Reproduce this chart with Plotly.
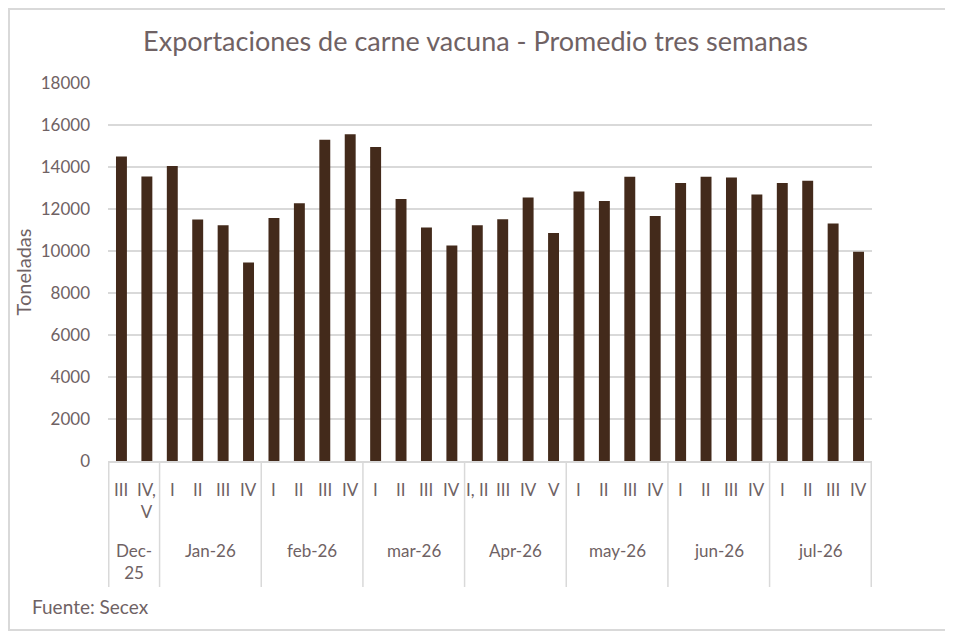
import plotly.graph_objects as go

# semanas y meses (eje de categorias en dos niveles)
meses = ["Dec-<br>25"] * 2 + ["Jan-26"] * 4 + ["feb-26"] * 4 + ["mar-26"] * 4 + \
        ["Apr-26"] * 4 + ["may-26"] * 4 + ["jun-26"] * 4 + ["jul-26"] * 4
semanas = ["III", "IV,<br>V",
           "I", "II", "III", "IV",
           "I", "II", "III", "IV",
           "I", "II", "III", "IV",
           "I, II", "III", "IV", "V",
           "I", "II", "III", "IV",
           "I", "II", "III", "IV",
           "I", "II", "III", "IV"]
toneladas = [14500, 13550,
             14050, 11500, 11230, 9450,
             11570, 12270, 15300, 15560,
             14950, 12480, 11120, 10260,
             11230, 11510, 12550, 10860,
             12830, 12380, 13540, 11670,
             13240, 13540, 13500, 12690,
             13240, 13340, 11310, 9960]

texto = "#6f6264"
gris = "#d9d9d9"
fuente = "Lato, Open Sans, sans-serif"

# la pagina deja 8 px de margen, el grafico se dibuja un poco mas chico
W, H = 945, 625
L, R, T, B = 100, 81, 75, 172
PW, PH = W - L - R, H - T - B


def py(p):
    # pixel vertical de la imagen -> coordenada paper
    return (H - B - (p - 8)) / PH


def px(q):
    return (q - 8 - L) / PW


ids = [m + "|" + s for m, s in zip(meses, semanas)]

fig = go.Figure(go.Bar(x=ids, y=toneladas,
                       marker=dict(color="#432a1b", line=dict(width=0))))

fig.update_layout(
    width=W, height=H,
    margin=dict(l=L, r=R, t=T, b=B),
    paper_bgcolor="white", plot_bgcolor="white",
    font=dict(family=fuente, size=17, color=texto),
    title=dict(text="Exportaciones de carne vacuna - Promedio tres semanas",
               x=(475.5 - 8) / W, xanchor="center", y=1 - (42 - 8) / H, yanchor="middle",
               font=dict(size=27, color=texto)),
    bargap=0.57,
    showlegend=False,
)
fig.update_yaxes(range=[0, 18000], dtick=2000, showgrid=True, gridcolor=gris, gridwidth=1.5,
                 zeroline=False, showline=False, ticks="", tickformat="d",
                 ticklabelstandoff=17, tickfont=dict(size=17, color=texto),
                 title=dict(text="Toneladas", standoff=3, font=dict(size=20, color=texto)))
fig.update_xaxes(type="category", showticklabels=False, showgrid=False, ticks="",
                 showline=True, linecolor=gris, linewidth=1.5)

# etiquetas de semana debajo de cada barra
for i, s in enumerate(semanas):
    fig.add_annotation(text=s, x=ids[i], xref="x", y=py(477), yref="paper",
                       yanchor="top", showarrow=False,
                       font=dict(size=17, color=texto))

# etiquetas de mes y separadores entre grupos
inicio = 0
for i in range(1, len(meses) + 1):
    if i == len(meses) or meses[i] != meses[inicio]:
        fig.add_annotation(text=meses[inicio], x=(inicio + i - 1) / 2, xref="x",
                           y=py(538), yref="paper", yanchor="top", showarrow=False,
                           font=dict(size=17, color=texto))
        fig.add_shape(type="line", xref="x", yref="paper",
                      x0=i - 0.5, x1=i - 0.5, y0=py(461), y1=py(587),
                      line=dict(color=gris, width=1.5))
        if inicio == 0:
            fig.add_shape(type="line", xref="x", yref="paper",
                          x0=-0.5, x1=-0.5, y0=py(461), y1=py(587),
                          line=dict(color=gris, width=1.5))
        inicio = i

# marco del grafico y fuente
fig.add_shape(type="rect", xref="paper", yref="paper",
              x0=-(L - 1) / PW, x1=1 + (R - 2) / PW,
              y0=-(B - 3) / PH, y1=1 + (T - 1) / PH,
              line=dict(color=gris, width=2))
fig.add_annotation(text="Fuente: Secex", xref="paper", yref="paper",
                   x=px(30), xanchor="left", y=py(606), yanchor="middle",
                   showarrow=False, font=dict(size=19, color=texto))

fig.write_html("out.html")
